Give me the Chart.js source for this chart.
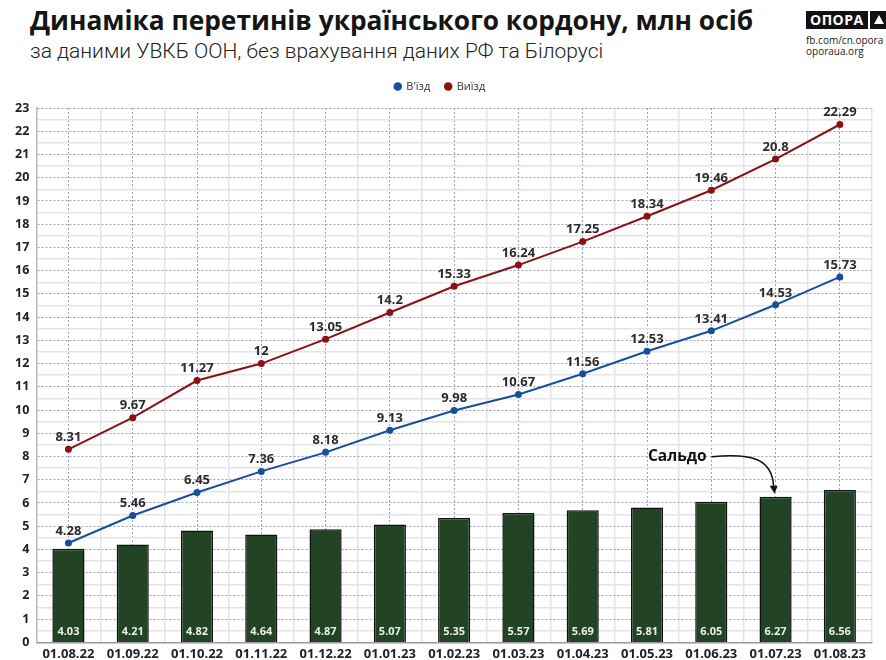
<!DOCTYPE html>
<html lang="uk">
<head>
<meta charset="utf-8">
<script src="https://cdn.jsdelivr.net/npm/chart.js@4/dist/chart.umd.min.js"></script>
<style>
    html, body { margin: 0; padding: 0; background: #fff; }
    body { width: 886px; height: 660px; position: relative; overflow: hidden; font-family: "Open Sans", sans-serif; }
    #title { position: absolute; left: 30px; top: 2px; font-size: 26.3px; font-weight: 700; color: #151515; white-space: nowrap; }
    #subtitle { position: absolute; left: 30px; top: 39px; font-family: Roboto, sans-serif; font-size: 21px; font-weight: 300; color: #222; white-space: nowrap; }
    #logo { position: absolute; left: 806px; top: 11px; white-space: nowrap; }
    #logo .box { display: inline-block; background: #111; color: #fff; font: 700 14px "Open Sans", sans-serif; letter-spacing: 0.5px; height: 18px; line-height: 18px; padding: 0 4px; vertical-align: top; }
    #logo .tri { display: inline-block; background: #111; width: 18px; height: 18px; margin-left: 2px; position: relative; vertical-align: top; }
    #logo .tri::after { content: ""; position: absolute; left: 4px; top: 4px; border-left: 5px solid transparent; border-right: 5px solid transparent; border-bottom: 9px solid #fff; }
    #logo .small { font: 10px "Open Sans", sans-serif; color: #222; line-height: 11px; margin-top: 2px; white-space: nowrap; }
    #wrap { position: absolute; left: 0; top: 0; width: 886px; height: 666px; }
</style>
</head>
<body>
<div id="title">Динаміка перетинів українського кордону, млн осіб</div>
<div id="subtitle">за даними УВКБ ООН, без врахування даних РФ та Білорусі</div>
<div id="logo">
    <span class="box">ОПОРА</span><span class="tri"></span>
    <div class="small">fb.com/cn.opora<br>oporaua.org</div>
</div>
<div id="wrap"><canvas id="chart" width="886" height="666"></canvas></div>

<script>
// ── Дані ─────────────────────────────────────────────────────────────────
const DATES   = ["01.08.22", "01.09.22", "01.10.22", "01.11.22", "01.12.22", "01.01.23", "01.02.23",
                 "01.03.23", "01.04.23", "01.05.23", "01.06.23", "01.07.23", "01.08.23"];
const VYIZD   = [8.31, 9.67, 11.27, 12, 13.05, 14.2, 15.33, 16.24, 17.25, 18.34, 19.46, 20.8, 22.29];
const VIZD    = [4.28, 5.46, 6.45, 7.36, 8.18, 9.13, 9.98, 10.67, 11.56, 12.53, 13.41, 14.53, 15.73];
const SALDO   = [4.03, 4.21, 4.82, 4.64, 4.87, 5.07, 5.35, 5.57, 5.69, 5.81, 6.05, 6.27, 6.56];
const Y_MAX   = 23;

const COLORS = {
    vizd:  "#184f9c",
    vyizd: "#8a1212",
    saldo: "#224424",
    gridMain: "#a0a0be",
    gridMinor: "#e3e3e8",
    text: "#2b2b2b"
};

const FONT = "'Open Sans', sans-serif";

// ── Підписи значень ─────────────────────────────────────────────────────
const valueLabels = {
    id: "valueLabels",
    afterDatasetsDraw(chart) {
        const ctx = chart.ctx;
        ctx.save();
        ctx.textAlign = "center";
        ctx.textBaseline = "middle";
        chart.data.datasets.forEach((ds, di) => {
            const meta = chart.getDatasetMeta(di);
            meta.data.forEach((el, i) => {
                const v = ds.data[i];
                if (ds.type === "bar") {
                    ctx.font = "700 11px " + FONT;
                    ctx.fillStyle = "#e8efe8";
                    ctx.fillText(String(v), el.x, el.base - 10);
                } else {
                    ctx.font = "700 13px " + FONT;
                    ctx.fillStyle = COLORS.text;
                    ctx.fillText(String(v), el.x, el.y - 12);
                }
            });
        });
        ctx.restore();
    }
};

// ── Стрілка «Сальдо» ────────────────────────────────────────────────────
const saldoNote = {
    id: "saldoNote",
    afterDatasetsDraw(chart) {
        const ctx = chart.ctx;
        const bar = chart.getDatasetMeta(2).data[11];
        if (!bar) return;
        const tipX = bar.x - 1, tipY = bar.y - 4;
        const tx = bar.x - 69, ty = bar.y - 40;
        ctx.save();
        ctx.font = "700 15.5px " + FONT;
        ctx.fillStyle = "#111";
        ctx.textAlign = "right";
        ctx.textBaseline = "middle";
        ctx.fillText("Сальдо", tx, ty);
        ctx.strokeStyle = "#111";
        ctx.lineWidth = 1.5;
        ctx.beginPath();
        ctx.moveTo(tx + 5, ty);
        ctx.bezierCurveTo(tx + 45, ty - 4, tipX - 2, ty + 2, tipX - 1, tipY - 6);
        ctx.stroke();
        ctx.fillStyle = "#111";
        ctx.beginPath();
        ctx.moveTo(tipX, tipY + 1);
        ctx.lineTo(tipX - 5, tipY - 7);
        ctx.lineTo(tipX + 3, tipY - 7);
        ctx.closePath();
        ctx.fill();
        ctx.restore();
    }
};

new Chart(document.getElementById("chart"), {
    data: {
        labels: DATES,
        datasets: [
            {
                type: "line",
                label: "В'їзд",
                data: VIZD,
                order: 1,
                borderColor: COLORS.vizd,
                backgroundColor: COLORS.vizd,
                borderWidth: 2,
                pointRadius: 3.5,
                pointBackgroundColor: COLORS.vizd,
                pointBorderWidth: 0
            },
            {
                type: "line",
                label: "Виїзд",
                data: VYIZD,
                order: 2,
                borderColor: COLORS.vyizd,
                backgroundColor: COLORS.vyizd,
                borderWidth: 2,
                pointRadius: 3.5,
                pointBackgroundColor: COLORS.vyizd,
                pointBorderWidth: 0
            },
            {
                type: "bar",
                label: "Сальдо",
                data: SALDO,
                order: 3,
                backgroundColor: COLORS.saldo,
                borderColor: "#111",
                borderWidth: 1.5,
                barPercentage: 0.5,
                categoryPercentage: 1
            }
        ]
    },
    options: {
        responsive: false,
        animation: false,
        layout: { padding: { top: 66, left: 8, right: 14, bottom: 0 } },
        plugins: {
            tooltip: { enabled: false },
            legend: {
                position: "top",
                labels: {
                    filter: item => item.text !== "Сальдо",
                    usePointStyle: true,
                    pointStyle: "circle",
                    boxWidth: 6,
                    boxHeight: 6,
                    padding: 15,
                    color: "#333",
                    font: { family: FONT, size: 11 }
                }
            }
        },
        scales: {
            x: {
                type: "category",
                offset: true,
                grid: { offset: true, color: COLORS.gridMinor, lineWidth: 1.5, drawTicks: false },
                border: { display: true, color: "#999", width: 1.5 },
                ticks: { color: "#222", padding: 4, maxRotation: 0, autoSkip: false, font: { family: FONT, size: 13, weight: "700" } }
            },
            xc: {
                type: "category",
                position: "top",
                offset: true,
                afterFit: s => { s.height = 6; },
                grid: { offset: false, color: COLORS.gridMain, lineWidth: 1, drawTicks: false },
                border: { display: false, dash: [2, 2] },
                ticks: { display: false }
            },
            y: {
                min: 0,
                max: Y_MAX,
                ticks: {
                    stepSize: 0.5,
                    autoSkip: false,
                    padding: 7,
                    color: "#222",
                    font: { family: FONT, size: 12.5, weight: "700" },
                    callback: v => (v % 1 === 0 ? v : "")
                },
                grid: {
                    drawTicks: false,
                    color: c => (c.tick && c.tick.value % 1 !== 0 ? COLORS.gridMinor : COLORS.gridMain),
                    lineWidth: c => (c.tick && c.tick.value % 1 !== 0 ? 1.5 : 1)
                },
                border: {
                    display: true,
                    color: "#bbb",
                    width: 1.5,
                    dash: c => (c.tick && c.tick.value % 1 === 0 ? [2, 2] : [])
                }
            }
        }
    },
    plugins: [valueLabels, saldoNote]
});
</script>
</body>
</html>
